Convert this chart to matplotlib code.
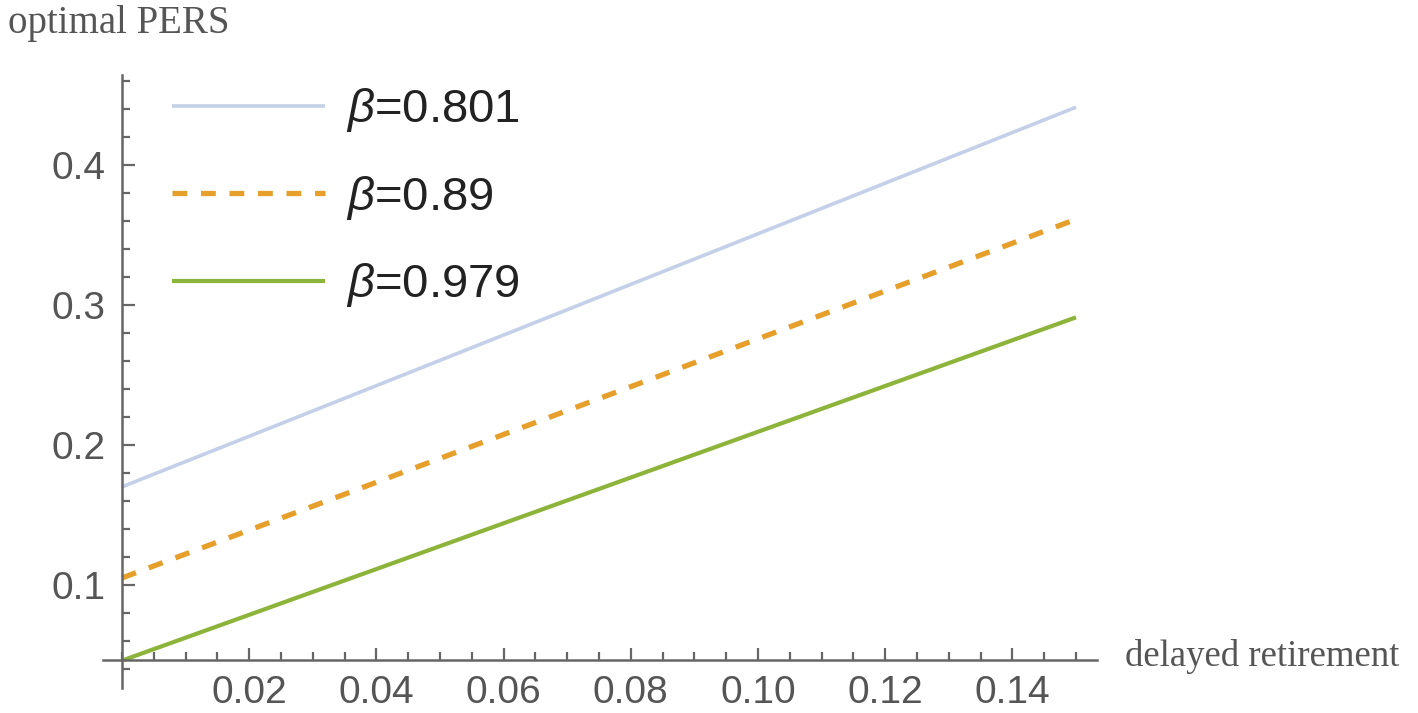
"""
Optimal PERS vs delayed retirement for three beta values.
"""

import numpy as np
import matplotlib
matplotlib.use("Agg")
import matplotlib.pyplot as plt
from matplotlib.ticker import MultipleLocator, FormatStrFormatter

# data (straight lines, start and end points)
delay = [0.0, 0.15]
betas = ["0.801", "0.89", "0.979"]
pers_0801 = [0.170, 0.441]
pers_089 = [0.105, 0.361]
pers_0979 = [0.046, 0.291]

COLORS = ["#c3d0e8", "#e59f2a", "#8db43a"]
AXIS_GREY = "#666666"
TEXT_GREY = "#555555"

plt.rcParams["font.family"] = ["Liberation Sans", "DejaVu Sans"]
plt.rcParams["mathtext.fontset"] = "custom"
plt.rcParams["mathtext.it"] = "Liberation Sans:italic"
plt.rcParams["mathtext.rm"] = "Liberation Sans"

fig = plt.figure(figsize=(14.18, 7.13), dpi=100)
ax = fig.add_axes([103 / 1418, 25 / 713, 994 / 1418, 613 / 713])

ax.plot(delay, pers_0801, color=COLORS[0], lw=2.6, solid_capstyle="butt",
        label=rf"$\beta$={betas[0]}")
ax.plot(delay, pers_089, color=COLORS[1], lw=3.8, dashes=(2.8, 2.6),
        label=rf"$\beta$={betas[1]}")
ax.plot(delay, pers_0979, color=COLORS[2], lw=3.0, solid_capstyle="butt",
        label=rf"$\beta$={betas[2]}")

ax.set_xlim(-0.003, 0.1533)
ax.set_ylim(0.0264, 0.464)

# Mathematica style crossing axes
for side in ("top", "right"):
    ax.spines[side].set_visible(False)
ax.spines["left"].set_position(("data", 0.0))
ax.spines["bottom"].set_position(("data", 0.0464))
for side in ("left", "bottom"):
    ax.spines[side].set_color(AXIS_GREY)
    ax.spines[side].set_linewidth(1.8)

ax.xaxis.set_major_locator(MultipleLocator(0.02))
ax.xaxis.set_minor_locator(MultipleLocator(0.005))
ax.yaxis.set_major_locator(MultipleLocator(0.1))
ax.yaxis.set_minor_locator(MultipleLocator(0.02))
ax.xaxis.set_major_formatter(FormatStrFormatter("%.2f"))
ax.yaxis.set_major_formatter(FormatStrFormatter("%.1f"))
ax.set_xticks([0.02, 0.04, 0.06, 0.08, 0.10, 0.12, 0.14])
ax.set_yticks([0.1, 0.2, 0.3, 0.4])

ax.tick_params(which="both", direction="in", color=AXIS_GREY, width=1.6,
               labelcolor=TEXT_GREY, labelsize=28)
ax.tick_params(which="major", length=9)
ax.tick_params(which="minor", length=6)
ax.tick_params(axis="x", pad=11)
ax.tick_params(axis="y", pad=12)

leg = ax.legend(loc="upper left", bbox_to_anchor=(0.069, 0.982), frameon=False,
                fontsize=34, handlelength=3.25, handletextpad=0.45,
                labelspacing=0.84, borderpad=0.0, borderaxespad=0.0)
for t in leg.get_texts():
    t.set_color("#222222")

fig.text(8 / 1418, 1 - 24 / 713, "optimal PERS", family="Liberation Serif",
         fontsize=28, color=TEXT_GREY, va="center", ha="left")
fig.text(1125 / 1418, 1 - 656 / 713, "delayed retirement", family="Liberation Serif",
         fontsize=26.5, color=TEXT_GREY, va="center", ha="left")

fig.savefig("out.png", dpi=100)
